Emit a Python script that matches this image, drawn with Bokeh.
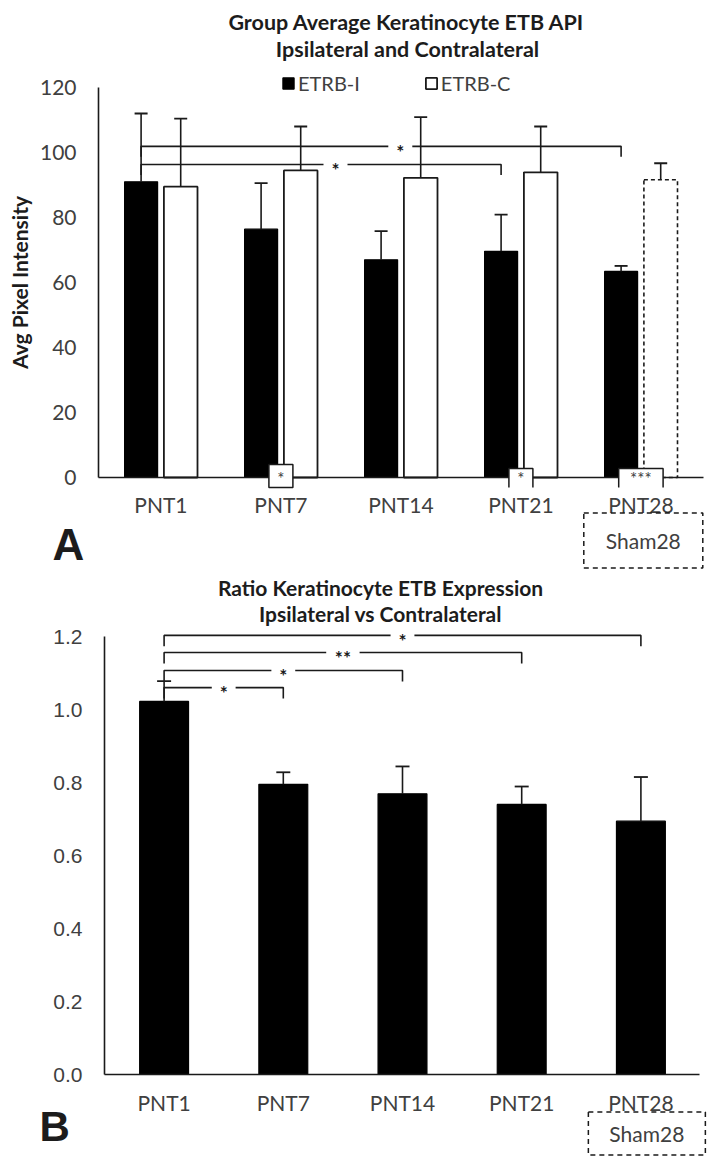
from bokeh.plotting import figure
from bokeh.models import (Range1d, FixedTicker, Legend, LegendItem, Label,
                          NumeralTickFormatter)
from bokeh.layouts import column
from bokeh.embed import file_html
from bokeh.resources import INLINE
from bokeh.core.properties import value

# ---------------- data ----------------
categories = ["PNT1", "PNT7", "PNT14", "PNT21", "PNT28"]

# Panel A: average pixel intensity (ETRB-I ipsilateral, ETRB-C contralateral; PNT28 C = Sham28)
etrb_i = [91.0, 76.4, 67.0, 69.6, 63.4]
etrb_i_err = [21.0, 14.2, 8.8, 11.3, 1.7]
etrb_c = [89.5, 94.5, 92.2, 93.9, 91.6]
etrb_c_err = [20.9, 13.5, 18.7, 14.1, 5.1]
a_bracket_to = [4, 3]            # PNT1 ETRB-I compared with these categories (ETRB-I)
a_bracket_level = [101.9, 96.3]
a_bracket_mark = ["*", "*"]
a_ipsi_vs_contra = ["", "*", "", "*", "***"]
a_yticks = [0, 20, 40, 60, 80, 100, 120]

# Panel B: ratio ipsilateral / contralateral
ratio = [1.022, 0.795, 0.769, 0.740, 0.694]
ratio_err = [0.056, 0.033, 0.075, 0.049, 0.121]
b_bracket_to = [4, 3, 2, 1]
b_bracket_level = [1.203, 1.156, 1.107, 1.060]
b_bracket_mark = ["*", "**", "*", "*"]
b_yticks = [0.0, 0.2, 0.4, 0.6, 0.8, 1.0, 1.2]

# ---------------- style ----------------
FONT = "Lato"
INK = "#1c1c1c"
TICK = "#404040"
LINE = "#1a1a1a"
W = 714
pos = [k + 1 for k in range(len(categories))]


def make_fig(height, axis_px, px_per_x, x_at_axis, zero_py, px_per_y):
    """Frame covers the whole canvas; axes are placed inside it."""
    x0 = x_at_axis - axis_px / px_per_x
    y1 = zero_py / px_per_y
    y0 = -(height - zero_py) / px_per_y
    p = figure(width=W, height=height, x_range=Range1d(x0, x0 + W / px_per_x),
               y_range=Range1d(y0, y1), output_backend="svg", toolbar_location=None,
               min_border=0)
    p.outline_line_color = None
    p.grid.visible = False
    p.xaxis.fixed_location = 0
    p.yaxis.fixed_location = x_at_axis
    return p


def style_axes(p, ytick_font, yticks, xbounds, ybounds, x_standoff):
    for ax in (p.xaxis[0], p.yaxis[0]):
        ax.axis_line_color = LINE
        ax.axis_line_width = 1.6
        ax.major_tick_line_color = None
        ax.minor_tick_line_color = None
        ax.major_tick_in = 0
        ax.major_tick_out = 0
    p.xaxis.bounds = xbounds
    p.yaxis.bounds = ybounds
    p.xaxis.ticker = FixedTicker(ticks=pos)
    p.xaxis.major_label_overrides = {pp: c for pp, c in zip(pos, categories)}
    p.xaxis.major_label_text_font = FONT
    p.xaxis.major_label_text_font_size = "21px"
    p.xaxis.major_label_text_color = TICK
    p.xaxis.major_label_standoff = x_standoff
    p.yaxis.ticker = FixedTicker(ticks=yticks)
    p.yaxis.major_label_text_font = ytick_font
    p.yaxis.major_label_text_font_size = "21px"
    p.yaxis.major_label_text_color = TICK
    p.yaxis.major_label_standoff = 22


def error_bars(p, xs, vals, errs, cap):
    tops = [v + e for v, e in zip(vals, errs)]
    p.segment(x0=xs, y0=vals, x1=xs, y1=tops, line_color=LINE, line_width=1.6)
    p.scatter(x=xs, y=tops, marker="dash", size=cap, line_color=LINE, line_width=1.8)


def brackets(p, x_from, x_to, levels, marks, drop, frac):
    mxs, mys, sx, sy = [], [], [], []
    for xt, lv, mk in zip(x_to, levels, marks):
        xm = x_from + frac * (xt - x_from)
        g = 0.06 + 0.04 * len(mk)
        mxs += [[x_from, x_from, xm - g], [xm + g, xt, xt]]
        mys += [[lv - drop, lv, lv], [lv, lv, lv - drop]]
        sx.append(xm)
        sy.append(lv)
    p.multi_line(xs=mxs, ys=mys, line_color=LINE, line_width=1.6)
    p.text(x=sx, y=sy, text=marks, text_align="center", text_baseline="middle",
           text_font=value(FONT), text_font_style="bold", text_font_size="19px",
           y_offset=5, text_color=LINE)


def screen_label(p, text, x, y, size, bold=True, font=FONT, align="center"):
    p.add_layout(Label(x=x, y=y, x_units="screen", y_units="screen", text=text,
                       text_font=font, text_font_size=size,
                       text_font_style="bold" if bold else "normal",
                       text_align=align, text_baseline="middle", text_color=INK))


def sham_label(p, x, y, pad):
    p.add_layout(Label(x=x, y=y, x_units="data", y_units="screen", text="Sham28",
                       text_font=FONT, text_font_size="21px", text_color=TICK,
                       text_align="center", text_baseline="middle",
                       border_line_color=LINE, border_line_width=1.5,
                       border_line_dash="5 4", background_fill_color="white",
                       padding=pad))


# ================= Panel A =================
HA = 572
pA = make_fig(HA, 98, 120.0, 0.48, 477, 3.25)
style_axes(pA, FONT, a_yticks, (0.48, 5.52), (0, 120), 14)
pA.yaxis.axis_label = "Avg Pixel Intensity"
pA.yaxis.axis_label_text_font = FONT
pA.yaxis.axis_label_text_font_style = "bold"
pA.yaxis.axis_label_text_font_size = "21px"
pA.yaxis.axis_label_text_color = INK
pA.yaxis.axis_label_standoff = 5

off = 0.165
xi = [p - off for p in pos]
xc = [p + off for p in pos]

rb = pA.vbar(x=xi, top=etrb_i, width=0.275, fill_color="black", line_color="black", line_width=1.2)
rc = pA.vbar(x=xc[:4], top=etrb_c[:4], width=0.28, fill_color="white", line_color=LINE, line_width=1.8)
pA.vbar(x=xc[4:], top=etrb_c[4:], width=0.28, fill_color="white", line_color=LINE,
        line_width=1.6, line_dash="4 3")
error_bars(pA, xi, etrb_i, etrb_i_err, 13)
error_bars(pA, xc, etrb_c, etrb_c_err, 13)

brackets(pA, xi[0], [xi[t] for t in a_bracket_to], a_bracket_level, a_bracket_mark, 3.2, 0.54)

# ipsilateral vs contralateral marks at the base of each group
closed_x, closed_hw, open_x, open_hw, star_x, star_t = [], [], [], [], [], []
for k, mk in enumerate(a_ipsi_vs_contra):
    if not mk:
        continue
    hw = 0.1 if len(mk) == 1 else 0.185
    if k == 1:
        closed_x.append(pos[k]); closed_hw.append(hw)
    else:
        open_x.append(pos[k]); open_hw.append(hw)
    star_x.append(pos[k]); star_t.append(mk)
pA.quad(left=[x - h for x, h in zip(closed_x, closed_hw)], right=[x + h for x, h in zip(closed_x, closed_hw)],
        bottom=-3.1, top=4.0, fill_color="white", line_color=LINE, line_width=1.5, level="overlay")
pA.quad(left=[x - h for x, h in zip(open_x, open_hw)], right=[x + h for x, h in zip(open_x, open_hw)],
        bottom=-3.1, top=2.8, fill_color="white", line_color=None, level="overlay")
pA.multi_line(xs=[[x - h, x - h, x + h, x + h] for x, h in zip(open_x, open_hw)],
              ys=[[-3.1, 2.8, 2.8, -3.1] for _ in open_x],
              line_color=LINE, line_width=1.5, level="overlay")
pA.text(x=star_x, y=[1.0] * len(star_x), text=star_t, text_align="center", text_baseline="middle",
        text_font=value(FONT), text_font_size="17px", text_color=TICK, y_offset=4, level="overlay")

legA = Legend(items=[LegendItem(label="ETRB-I", renderers=[rb]),
                     LegendItem(label="ETRB-C", renderers=[rc])],
              location=(281, 477), orientation="horizontal", glyph_width=14, glyph_height=14,
              label_standoff=3, spacing=64, padding=0, margin=0, border_line_color=None,
              background_fill_alpha=0, label_text_font=FONT, label_text_font_size="20px",
              label_text_color=TICK, label_height=14)
pA.add_layout(legA)

screen_label(pA, "Group Average Keratinocyte ETB API", 406, HA - 21, "21.5px")
screen_label(pA, "Ipsilateral and Contralateral", 407, HA - 48, "21.5px")
screen_label(pA, "A", 52, HA - 544, "44px", font="Liberation Sans", align="left")
sham_label(pA, 5.02, HA - 540, dict(left=22, right=22, top=15, bottom=15))

# ================= Panel B =================
HB = 587
TB = 572
pB = make_fig(HB, 104, 119.2, 0.5, 1074 - TB, 365.0)
style_axes(pB, "Liberation Sans", b_yticks, (0.5, 5.49), (0, 1.2), 15)
pB.yaxis.formatter = NumeralTickFormatter(format="0.0")

pB.vbar(x=pos, top=ratio, width=0.41, fill_color="black", line_color="black", line_width=1.2)
error_bars(pB, pos, ratio, ratio_err, 14)
brackets(pB, pos[0], [pos[t] for t in b_bracket_to], b_bracket_level, b_bracket_mark, 0.03, 0.5)

screen_label(pB, "Ratio Keratinocyte ETB Expression", 380, HB - (587 - TB), "21px")
screen_label(pB, "Ipsilateral vs Contralateral", 380, HB - (613 - TB), "21px")
screen_label(pB, "B", 39, HB - (1126 - TB), "42px", font="Liberation Sans", align="left")
sham_label(pB, 5.05, HB - (1133 - TB), dict(left=21, right=21, top=9, bottom=9))

layout = column(pA, pB, spacing=0)
open("out.html", "w").write(file_html(layout, INLINE))
